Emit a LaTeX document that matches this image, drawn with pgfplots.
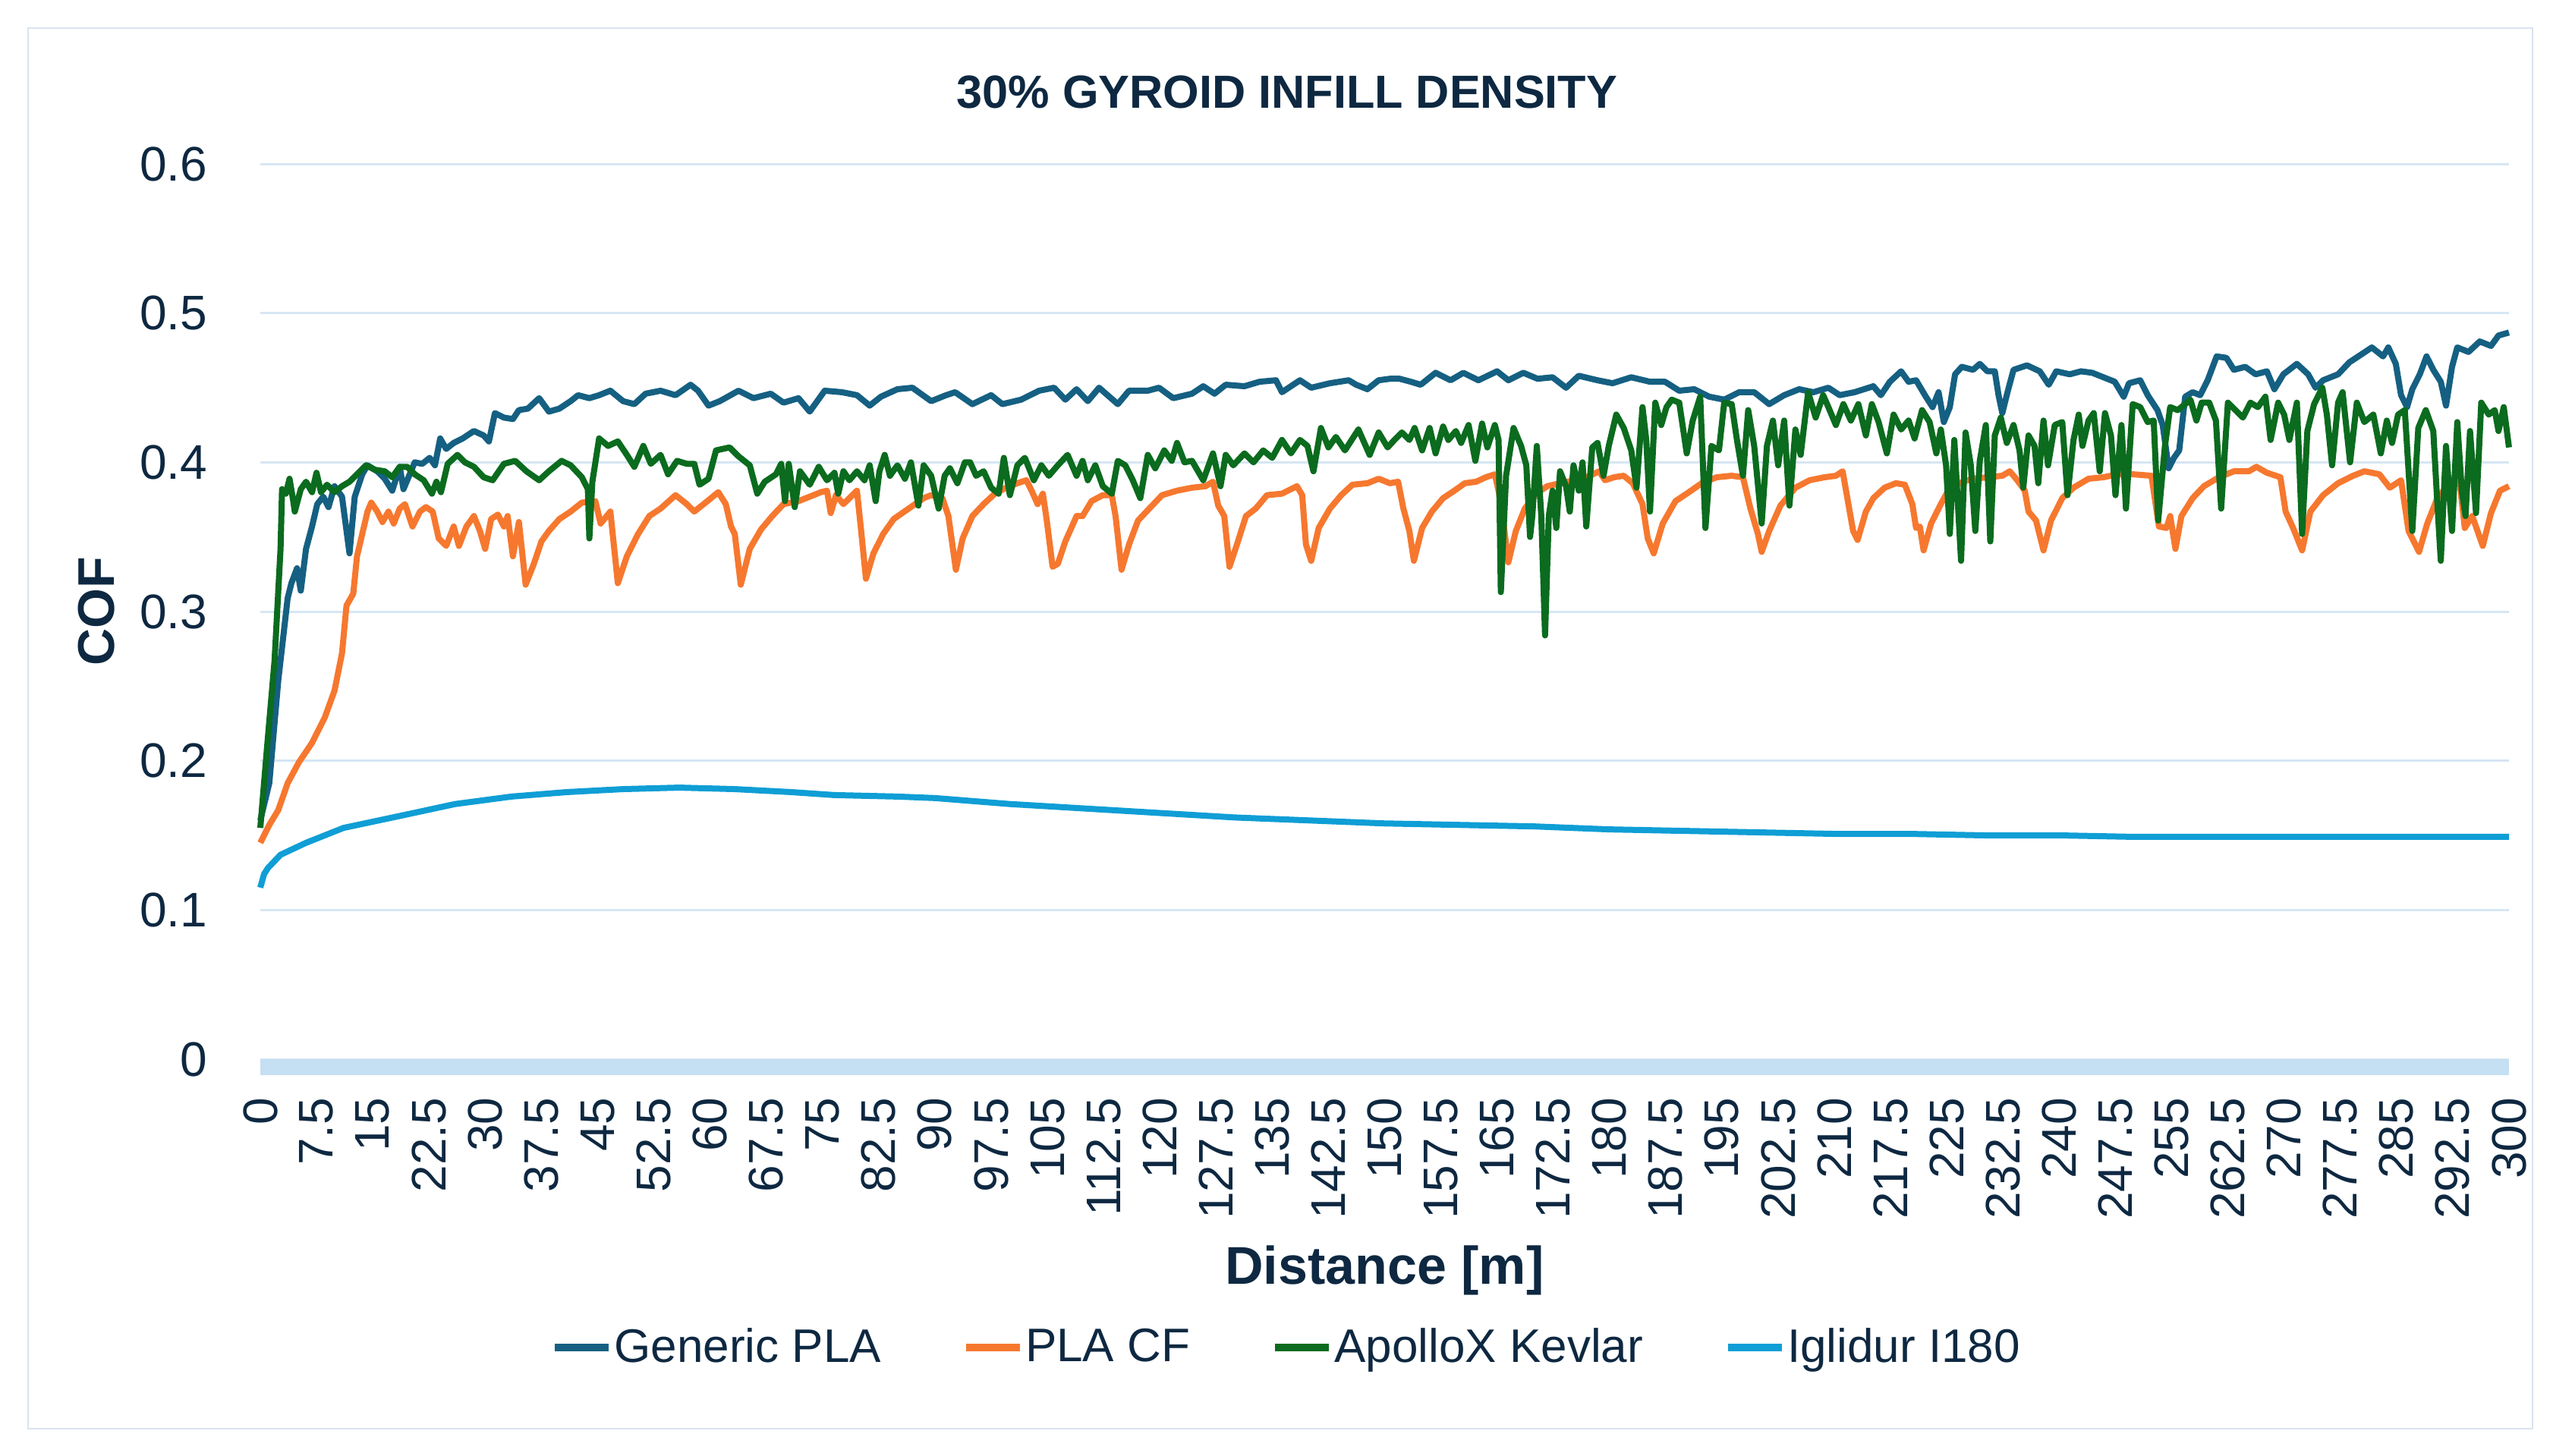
\documentclass[border=0pt]{standalone}
\usepackage{fontspec}
\setmainfont{Liberation Sans}
\usepackage{pgfplots}
\pgfplotsset{compat=1.18}
\definecolor{navy}{HTML}{0E2841}
\definecolor{cPLA}{HTML}{156082}
\definecolor{cCF}{HTML}{F6782F}
\definecolor{cKev}{HTML}{0B6B1E}
\definecolor{cIgl}{HTML}{0F9ED5}
\definecolor{gridblue}{HTML}{D6E6F4}
\definecolor{bandblue}{HTML}{C5DFF3}
\definecolor{framecol}{HTML}{D9E4EF}
\begin{document}
\begin{tikzpicture}
\path[use as bounding box] (-85.75pt,-130.5pt) rectangle (755.25pt,349pt);
\begin{axis}[
  at={(0pt,0pt)}, anchor=south west,
  scale only axis, width=740.75pt, height=295pt,
  xmin=0, xmax=300, ymin=0, ymax=0.6,
  clip=false,
  axis line style={draw=none},
  tick style={draw=none},
  ymajorgrids,
  grid style={color=gridblue, line width=0.75pt},
  ytick={0,0.1,0.2,0.3,0.4,0.5,0.6},
  yticklabels={0,0.1,0.2,0.3,0.4,0.5,0.6},
  xtick={0,7.5,15,22.5,30,37.5,45,52.5,60,67.5,75,82.5,90,97.5,105,112.5,120,127.5,135,142.5,150,157.5,165,172.5,180,187.5,195,202.5,210,217.5,225,232.5,240,247.5,255,262.5,270,277.5,285,292.5,300},
  xticklabels={0,7.5,15,22.5,30,37.5,45,52.5,60,67.5,75,82.5,90,97.5,105,112.5,120,127.5,135,142.5,150,157.5,165,172.5,180,187.5,195,202.5,210,217.5,225,232.5,240,247.5,255,262.5,270,277.5,285,292.5,300},
  tick label style={font=\fontsize{16}{19}\selectfont, text=navy},
  yticklabel style={anchor=east, inner sep=0pt, xshift=-17.25pt},
  xticklabel style={yshift=-12.5pt, rotate=90, anchor=east, inner sep=0pt},
  title={30\% GYROID INFILL DENSITY},
  every axis title/.style={at={(axis description cs:0.4566,1)}, yshift=18.5pt, anchor=base, font=\fontsize{15.3}{18}\selectfont\bfseries, text=navy},
  xlabel={Distance [m]},
  every axis x label/.style={at={(axis description cs:0.5,0)}, yshift=-74pt, anchor=base, font=\fontsize{17.5}{20}\selectfont\bfseries, text=navy},
  ylabel={COF},
  every axis y label/.style={at={(axis description cs:-0.073,0.5)}, anchor=center, rotate=90, font=\fontsize{17}{20}\selectfont\bfseries, text=navy},
  legend columns=4,
  legend cell align=left,
  legend style={at={(axis description cs:0.4563,-0.322)}, anchor=center, draw=none, fill=none,
    font=\fontsize{15.5}{18}\selectfont, text=navy, inner sep=0pt,
    nodes={inner sep=0.6pt},
    /tikz/every even column/.append style={column sep=26pt}},
  legend image code/.code={\draw[#1, line width=2.6pt] (0pt,0pt) -- (17.75pt,0pt);},
  every axis plot/.append style={line width=2.0pt, line join=round},
]
\addplot[draw=bandblue, line width=5.25pt, line join=miter, forget plot] coordinates {(0,-0.0054) (300,-0.0054)};

\addplot[cPLA] coordinates {
(0,0.16) (1.2,0.185) (2.4,0.254) (3.65,0.309) (4.15,0.319) (4.9,0.329) (5.4,0.314) (6.1,0.342) (6.9,0.357) (7.6,0.372) (8.4,0.377) (9.1,0.370) (9.9,0.384) (10.9,0.377) (11.9,0.339) (12.6,0.377) (13.6,0.392) (14.3,0.398) (15.6,0.394) (16.6,0.389) (17.6,0.381) (18.6,0.397) (19.1,0.382) (20.1,0.394) (20.6,0.400) (21.6,0.399) (22.6,0.403) (23.3,0.398) (24.0,0.416) (24.8,0.409) (25.8,0.413) (27.0,0.416) (28.5,0.421) (29.8,0.418) (30.5,0.414) (31.3,0.433) (32.5,0.430) (33.7,0.429) (34.5,0.435) (35.7,0.436) (37.2,0.443) (38.5,0.434) (39.9,0.436) (41.4,0.441) (42.4,0.445) (43.9,0.443) (45.2,0.445) (46.7,0.448) (48.4,0.441) (49.9,0.439) (51.4,0.446) (53.4,0.448) (55.4,0.445) (57.4,0.452) (58.4,0.448) (59.8,0.438) (61.3,0.441) (63.8,0.448) (65.8,0.443) (68.1,0.446) (69.8,0.440) (71.8,0.443) (73.3,0.434) (75.3,0.448) (77.6,0.447) (79.6,0.445) (81.3,0.438) (82.8,0.444) (85.0,0.449) (87.0,0.450) (89.5,0.441) (91.5,0.445) (92.7,0.447) (95.0,0.439) (97.5,0.445) (99.0,0.439) (101.5,0.442) (103.9,0.448) (105.9,0.450) (107.4,0.442) (108.9,0.449) (110.4,0.441) (111.9,0.450) (114.4,0.439) (115.9,0.448) (118.4,0.448) (119.9,0.450) (121.8,0.443) (124.3,0.446) (125.8,0.451) (127.3,0.446) (128.8,0.452) (131.3,0.451) (133.3,0.454) (135.5,0.455) (136.3,0.447) (138.7,0.455) (140.2,0.450) (142.7,0.453) (145.2,0.455) (146.2,0.452) (147.7,0.449) (149.2,0.455) (150.7,0.456) (152.0,0.456) (153.5,0.454) (154.8,0.452) (156.8,0.460) (158.8,0.455) (160.5,0.460) (162.5,0.455) (165.0,0.461) (166.5,0.455) (168.5,0.460) (170.4,0.456) (172.4,0.457) (174.2,0.450) (175.9,0.458) (178.4,0.455) (180.4,0.453) (182.9,0.457) (185.4,0.454) (187.4,0.454) (189.3,0.448) (191.3,0.449) (193.3,0.444) (195.3,0.442) (197.3,0.447) (199.3,0.447) (201.3,0.439) (203.3,0.445) (205.3,0.449) (207.2,0.447) (209.2,0.450) (210.7,0.445) (212.7,0.447) (215.2,0.451) (216.2,0.445) (217.4,0.454) (218.9,0.461) (219.9,0.454) (220.9,0.455) (222.2,0.444) (223.1,0.437) (223.9,0.447) (224.6,0.427) (225.4,0.437) (226.1,0.459) (227.0,0.464) (228.5,0.462) (229.4,0.466) (230.4,0.461) (231.4,0.461) (231.9,0.445) (232.4,0.433) (233.2,0.449) (233.9,0.462) (235.7,0.465) (237.4,0.461) (238.6,0.452) (239.6,0.461) (241.4,0.459) (242.9,0.461) (244.4,0.460) (245.9,0.457) (247.4,0.454) (248.6,0.444) (249.3,0.453) (250.8,0.455) (251.8,0.445) (253.1,0.435) (253.8,0.425) (254.6,0.396) (255.3,0.403) (256.0,0.408) (256.8,0.444) (257.8,0.447) (258.8,0.445) (259.8,0.455) (261.0,0.471) (262.3,0.470) (263.3,0.462) (264.8,0.464) (266.2,0.459) (267.7,0.461) (268.7,0.449) (269.9,0.459) (271.7,0.466) (273.2,0.459) (274.2,0.450) (275.2,0.455) (277.2,0.459) (278.7,0.467) (280.2,0.472) (281.7,0.477) (283.2,0.471) (283.9,0.477) (284.9,0.466) (285.6,0.445) (286.4,0.437) (287.1,0.449) (288.1,0.459) (289.0,0.471) (289.9,0.462) (290.9,0.454) (291.6,0.438) (292.4,0.464) (293.1,0.477) (294.6,0.474) (296.1,0.481) (297.6,0.478) (298.6,0.485) (300,0.487)
};
\addlegendentry{Generic PLA}

\addplot[cCF] coordinates {
(0,0.145) (1.2,0.157) (2.4,0.167) (3.65,0.185) (5.15,0.199) (6.9,0.212) (8.6,0.229) (9.9,0.247) (10.9,0.272) (11.5,0.304) (12.4,0.312) (12.9,0.337) (13.6,0.352) (14.3,0.367) (14.8,0.373) (15.6,0.367) (16.3,0.360) (17.1,0.367) (17.8,0.359) (18.6,0.369) (19.3,0.372) (20.3,0.357) (21.3,0.367) (22.1,0.370) (23.0,0.367) (23.8,0.349) (24.8,0.344) (25.8,0.357) (26.5,0.344) (27.5,0.357) (28.5,0.364) (29.3,0.354) (30.0,0.342) (30.8,0.362) (31.7,0.365) (32.5,0.357) (33.0,0.364) (33.7,0.337) (34.5,0.360) (35.4,0.318) (36.5,0.332) (37.5,0.347) (38.5,0.354) (39.9,0.362) (41.4,0.367) (42.9,0.373) (44.7,0.374) (45.4,0.359) (46.7,0.367) (47.7,0.319) (48.9,0.337) (50.4,0.352) (51.9,0.364) (53.4,0.369) (55.4,0.378) (56.9,0.372) (57.9,0.367) (59.4,0.373) (61.1,0.380) (62.1,0.372) (62.8,0.357) (63.3,0.352) (64.1,0.318) (65.3,0.342) (66.8,0.355) (68.3,0.364) (69.8,0.372) (71.8,0.374) (73.3,0.377) (74.8,0.380) (75.6,0.381) (76.1,0.366) (76.8,0.378) (77.8,0.372) (78.6,0.376) (79.6,0.381) (80.1,0.357) (80.8,0.322) (81.8,0.339) (83.1,0.352) (84.5,0.362) (86.5,0.369) (88.5,0.376) (89.5,0.378) (91.0,0.376) (91.8,0.364) (92.8,0.328) (93.7,0.349) (95.0,0.364) (96.5,0.372) (98.0,0.379) (99.5,0.383) (101.0,0.386) (102.2,0.388) (102.9,0.381) (103.7,0.372) (104.4,0.379) (104.9,0.362) (105.7,0.330) (106.4,0.332) (107.4,0.347) (108.9,0.364) (109.7,0.364) (110.9,0.374) (112.4,0.378) (113.6,0.378) (114.1,0.364) (114.9,0.328) (115.9,0.345) (117.1,0.361) (118.6,0.369) (120.3,0.378) (122.3,0.381) (124.3,0.383) (126.1,0.384) (127.1,0.387) (127.8,0.371) (128.6,0.364) (129.3,0.330) (130.3,0.345) (131.5,0.364) (132.8,0.369) (134.3,0.378) (136.3,0.379) (138.3,0.384) (139.0,0.378) (139.5,0.345) (140.2,0.334) (141.2,0.356) (142.7,0.369) (144.2,0.378) (145.7,0.385) (147.7,0.386) (149.2,0.389) (150.7,0.386) (151.8,0.387) (152.5,0.369) (153.3,0.354) (153.9,0.334) (155.0,0.356) (156.3,0.367) (157.8,0.376) (159.3,0.381) (160.7,0.386) (162.2,0.387) (163.5,0.390) (164.7,0.392) (165.5,0.374) (166.5,0.333) (167.5,0.354) (168.7,0.369) (170.2,0.379) (171.7,0.384) (173.4,0.386) (175.4,0.388) (177.4,0.391) (178.6,0.394) (179.4,0.388) (180.6,0.390) (181.9,0.391) (183.1,0.386) (184.4,0.372) (185.1,0.349) (185.9,0.339) (187.1,0.359) (188.8,0.374) (190.3,0.379) (192.3,0.386) (194.3,0.390) (196.3,0.391) (197.8,0.390) (198.8,0.369) (199.8,0.352) (200.3,0.340) (201.3,0.354) (202.8,0.371) (204.8,0.383) (206.7,0.388) (208.7,0.390) (210.2,0.391) (211.1,0.394) (211.8,0.374) (212.5,0.354) (213.1,0.348) (214.2,0.367) (215.2,0.376) (216.7,0.383) (218.2,0.386) (219.4,0.385) (220.4,0.372) (220.9,0.356) (221.4,0.357) (221.9,0.341) (222.9,0.359) (224.2,0.372) (225.4,0.383) (226.6,0.386) (228.4,0.389) (230.5,0.390) (232.4,0.391) (233.4,0.394) (234.4,0.388) (235.4,0.381) (235.9,0.367) (236.9,0.361) (237.9,0.341) (238.9,0.361) (240.4,0.376) (241.9,0.383) (243.9,0.389) (245.9,0.390) (247.8,0.392) (249.8,0.392) (252.3,0.391) (253.3,0.357) (254.3,0.356) (254.8,0.364) (255.5,0.342) (256.3,0.364) (257.8,0.376) (259.3,0.384) (261.3,0.390) (263.3,0.394) (265.3,0.394) (266.3,0.397) (267.7,0.393) (269.5,0.390) (270.2,0.367) (271.2,0.356) (272.4,0.341) (273.5,0.367) (275.2,0.378) (277.2,0.386) (279.2,0.391) (280.7,0.394) (282.7,0.392) (284.1,0.383) (285.6,0.388) (286.6,0.354) (288.0,0.340) (289.1,0.359) (290.6,0.378) (292.1,0.384) (293.4,0.388) (294.1,0.356) (295.1,0.364) (296.5,0.344) (297.6,0.366) (298.8,0.381) (300,0.384)
};
\addlegendentry{PLA CF}

\addplot[cKev] coordinates {
(0,0.155) (0.9,0.209) (1.9,0.267) (2.7,0.342) (2.9,0.382) (3.4,0.379) (3.9,0.389) (4.4,0.374) (4.6,0.367) (5.4,0.382) (6.1,0.387) (6.9,0.380) (7.5,0.393) (8.1,0.380) (8.9,0.385) (9.9,0.380) (10.9,0.384) (11.9,0.387) (13.1,0.393) (14.1,0.398) (15.3,0.395) (16.6,0.394) (17.6,0.390) (18.6,0.397) (19.6,0.397) (20.6,0.392) (21.8,0.388) (22.9,0.379) (23.5,0.387) (24.1,0.380) (25.0,0.399) (26.3,0.405) (27.3,0.400) (28.5,0.397) (29.8,0.390) (31.0,0.388) (32.5,0.399) (34.0,0.401) (35.5,0.394) (37.2,0.388) (38.5,0.394) (40.2,0.401) (41.4,0.398) (42.9,0.390) (43.7,0.382) (43.9,0.349) (44.3,0.387) (45.2,0.416) (46.4,0.411) (47.7,0.414) (48.9,0.405) (49.9,0.397) (51.1,0.411) (52.1,0.399) (53.4,0.405) (54.4,0.392) (55.6,0.401) (56.9,0.399) (57.9,0.399) (58.6,0.385) (59.8,0.389) (60.8,0.408) (62.6,0.410) (63.8,0.404) (65.3,0.398) (66.3,0.379) (67.3,0.387) (68.8,0.392) (69.5,0.399) (70.0,0.374) (70.5,0.399) (71.3,0.370) (72.0,0.394) (73.3,0.385) (74.5,0.397) (75.6,0.388) (76.6,0.393) (77.1,0.379) (77.8,0.394) (78.6,0.388) (79.6,0.394) (80.6,0.388) (81.3,0.398) (82.1,0.374) (82.6,0.394) (83.3,0.405) (84.0,0.391) (85.0,0.398) (86.0,0.389) (86.8,0.400) (87.8,0.371) (88.5,0.398) (89.5,0.391) (90.5,0.369) (91.3,0.391) (92.0,0.396) (93.0,0.386) (94.0,0.400) (94.7,0.400) (95.5,0.391) (96.5,0.394) (97.5,0.383) (98.5,0.379) (99.2,0.403) (100.0,0.378) (101.0,0.398) (102.0,0.403) (103.2,0.388) (104.2,0.398) (105.2,0.391) (106.4,0.398) (107.7,0.405) (108.9,0.391) (109.7,0.401) (110.4,0.388) (111.4,0.398) (112.4,0.384) (113.6,0.379) (114.4,0.401) (115.4,0.398) (116.4,0.388) (117.4,0.376) (118.4,0.405) (119.4,0.396) (120.6,0.408) (121.6,0.401) (122.3,0.413) (123.3,0.400) (124.3,0.401) (125.8,0.388) (127.1,0.406) (128.1,0.384) (128.8,0.405) (129.8,0.398) (131.3,0.406) (132.5,0.400) (133.8,0.408) (135.0,0.403) (136.3,0.415) (137.5,0.406) (138.7,0.415) (139.7,0.411) (140.5,0.394) (141.5,0.423) (142.5,0.410) (143.5,0.417) (144.7,0.408) (146.5,0.422) (148.0,0.405) (149.2,0.420) (150.4,0.410) (151.3,0.415) (152.3,0.420) (153.3,0.415) (154.0,0.423) (155.0,0.408) (156.0,0.423) (156.8,0.406) (157.8,0.424) (158.5,0.415) (159.5,0.421) (160.2,0.413) (161.2,0.425) (162.1,0.401) (163.0,0.426) (163.7,0.410) (164.7,0.425) (165.2,0.415) (165.5,0.313) (166.2,0.391) (167.2,0.423) (168.2,0.411) (168.9,0.398) (169.4,0.350) (169.7,0.364) (170.3,0.411) (170.9,0.364) (171.4,0.284) (171.9,0.364) (172.4,0.381) (172.9,0.356) (173.4,0.394) (174.2,0.384) (174.7,0.367) (175.2,0.398) (175.9,0.381) (176.4,0.400) (176.9,0.357) (177.7,0.410) (178.4,0.413) (179.2,0.391) (179.9,0.411) (180.9,0.432) (181.9,0.423) (182.9,0.408) (183.6,0.383) (184.4,0.437) (184.9,0.415) (185.4,0.367) (186.1,0.440) (186.9,0.425) (187.6,0.437) (188.3,0.442) (189.3,0.440) (190.3,0.406) (191.1,0.428) (192.1,0.444) (192.8,0.356) (193.6,0.411) (194.6,0.408) (195.3,0.440) (196.3,0.439) (197.0,0.415) (197.8,0.391) (198.5,0.435) (199.3,0.411) (200.3,0.359) (201.0,0.411) (201.8,0.428) (202.5,0.398) (203.3,0.428) (204.0,0.371) (204.8,0.422) (205.5,0.405) (206.5,0.447) (207.5,0.430) (208.5,0.445) (209.2,0.437) (210.2,0.425) (211.2,0.439) (212.2,0.428) (213.2,0.439) (214.2,0.418) (215.0,0.439) (215.9,0.427) (217.0,0.406) (217.9,0.432) (218.9,0.422) (219.9,0.428) (220.7,0.416) (221.7,0.435) (222.7,0.427) (223.6,0.406) (224.2,0.422) (224.9,0.398) (225.4,0.352) (226.0,0.415) (226.9,0.334) (227.5,0.420) (228.2,0.398) (228.8,0.354) (229.4,0.401) (230.2,0.425) (230.8,0.347) (231.4,0.418) (232.2,0.430) (233.0,0.413) (233.9,0.425) (234.7,0.408) (235.2,0.383) (235.9,0.418) (236.7,0.411) (237.2,0.386) (237.9,0.428) (238.5,0.398) (239.4,0.425) (240.4,0.427) (241.1,0.378) (241.9,0.415) (242.6,0.432) (243.1,0.411) (243.9,0.428) (244.6,0.433) (245.4,0.394) (246.1,0.433) (246.9,0.418) (247.5,0.378) (248.3,0.425) (248.9,0.369) (249.8,0.439) (250.8,0.437) (251.8,0.427) (252.6,0.428) (253.2,0.361) (254.1,0.411) (254.8,0.437) (255.8,0.435) (256.8,0.439) (257.5,0.442) (258.3,0.428) (259.0,0.440) (260.0,0.440) (260.9,0.428) (261.6,0.369) (262.5,0.440) (263.5,0.435) (264.5,0.430) (265.5,0.440) (266.5,0.437) (267.5,0.444) (268.2,0.415) (269.2,0.440) (270.0,0.432) (270.7,0.415) (271.7,0.440) (272.4,0.352) (273.1,0.421) (274.0,0.439) (275.1,0.450) (275.7,0.432) (276.4,0.398) (277.2,0.440) (277.8,0.447) (278.8,0.400) (279.7,0.440) (280.7,0.427) (281.9,0.432) (282.9,0.406) (283.7,0.428) (284.4,0.413) (285.2,0.432) (286.1,0.435) (287.1,0.354) (287.9,0.423) (288.9,0.435) (289.9,0.421) (290.4,0.376) (290.9,0.334) (291.6,0.411) (292.4,0.354) (293.1,0.427) (293.7,0.381) (294.2,0.364) (294.8,0.421) (295.6,0.366) (296.3,0.440) (297.3,0.432) (298.1,0.435) (298.6,0.421) (299.3,0.437) (300,0.410)
};
\addlegendentry{ApolloX Kevlar}

\addplot[cIgl] coordinates {
(0,0.115) (0.5,0.124) (1,0.128) (2.7,0.137) (6.1,0.145) (11.1,0.155) (18.6,0.163) (26.0,0.171) (33.5,0.176) (40.9,0.179) (48.4,0.181) (55.9,0.182) (63.3,0.181) (70.8,0.179) (76.6,0.177) (85,0.176) (90,0.175) (95,0.173) (100,0.171) (110,0.168) (120,0.165) (130,0.162) (140,0.160) (150,0.158) (160,0.157) (170,0.156) (180,0.154) (190,0.153) (200,0.152) (210,0.151) (220,0.151) (230,0.150) (240,0.150) (250,0.149) (260,0.149) (270,0.149) (280,0.149) (290,0.149) (300,0.149)
};
\addlegendentry{Iglidur I180}
\end{axis}
\draw[framecol, line width=0.6pt] (-76.5pt,-121.75pt) rectangle (748.5pt,339.75pt);
\end{tikzpicture}
\end{document}
